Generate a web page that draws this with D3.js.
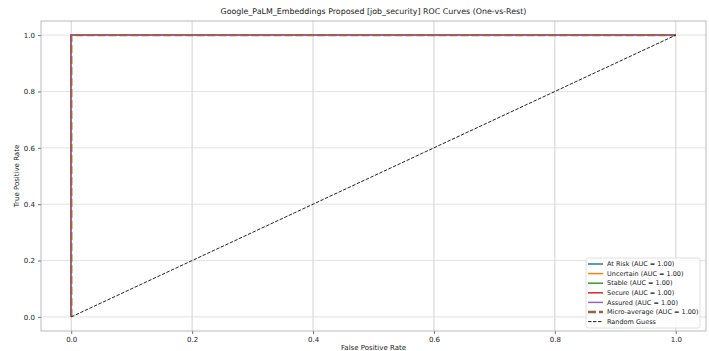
<!DOCTYPE html>
<html>
<head>
<meta charset="utf-8">
<script src="https://cdn.jsdelivr.net/npm/d3@7"></script>
<style>
  body { margin: 0; background: #fff; }
  text { font-family: "DejaVu Sans", sans-serif; fill: #222; }
</style>
</head>
<body>
<div id="chart"></div>
<script>
// data
const classNames = ['At Risk', 'Uncertain', 'Stable', 'Secure', 'Assured'];
const classColors = ['#1f77b4', '#ff7f0e', '#2ca02c', '#d62728', '#9467bd'];
const classAuc = [1.00, 1.00, 1.00, 1.00, 1.00];
const rocFpr = [0, 0, 1];
const rocTpr = [0, 1, 1];
const microAuc = 1.00;
const guessFpr = [0, 1];
const guessTpr = [0, 1];
const tickValues = [0, 0.2, 0.4, 0.6, 0.8, 1.0];

const width = 709, height = 351;
const margin = { left: 41, right: 3, top: 21, bottom: 20 };

const svg = d3.select('#chart').append('svg')
  .attr('width', width)
  .attr('height', height);

const x = d3.scaleLinear().domain([-0.05, 1.05]).range([margin.left, width - margin.right]);
const y = d3.scaleLinear().domain([-0.05, 1.05]).range([height - margin.bottom, margin.top]);

// grid
const grid = svg.append('g');
grid.selectAll('.vg').data(tickValues).enter().append('line')
  .attr('x1', d => x(d)).attr('x2', d => x(d))
  .attr('y1', y.range()[1]).attr('y2', y.range()[0])
  .attr('stroke', '#c8c8c8').attr('stroke-width', 0.8);
grid.selectAll('.hg').data(tickValues).enter().append('line')
  .attr('y1', d => y(d)).attr('y2', d => y(d))
  .attr('x1', x.range()[0]).attr('x2', x.range()[1])
  .attr('stroke', '#dcdcdc').attr('stroke-width', 0.8);

// axes
const xAxis = svg.append('g')
  .attr('transform', `translate(0,${y.range()[0]})`)
  .call(d3.axisBottom(x).tickValues(tickValues).tickFormat(d3.format('.1f')).tickSize(3).tickPadding(3));
const yAxis = svg.append('g')
  .attr('transform', `translate(${x.range()[0]},0)`)
  .call(d3.axisLeft(y).tickValues(tickValues).tickFormat(d3.format('.1f')).tickSize(3).tickPadding(3));
[xAxis, yAxis].forEach(a => {
  a.select('.domain').remove();
  a.selectAll('.tick line').attr('stroke', '#333').attr('stroke-width', 0.7);
  a.selectAll('.tick text').style('font-size', '7px').style('font-family', '"DejaVu Sans", sans-serif').attr('fill', '#222');
});

// frame
svg.append('rect')
  .attr('x', x.range()[0]).attr('y', y.range()[1])
  .attr('width', x.range()[1] - x.range()[0])
  .attr('height', y.range()[0] - y.range()[1])
  .attr('fill', 'none').attr('stroke', '#aaa').attr('stroke-width', 0.8);

const line = d3.line().x(d => x(d[0])).y(d => y(d[1]));
const rocPts = rocFpr.map((f, i) => [f, rocTpr[i]]);

// class curves
classNames.forEach((name, i) => {
  svg.append('path')
    .datum(rocPts)
    .attr('d', line)
    .attr('fill', 'none')
    .attr('stroke', classColors[i])
    .attr('stroke-width', 1.3);
});

// micro-average
svg.append('path')
  .datum(rocPts)
  .attr('d', line)
  .attr('fill', 'none')
  .attr('stroke', '#a0604f')
  .attr('stroke-width', 2.4)
  .attr('stroke-dasharray', '8,3');

// random guess
svg.append('path')
  .datum(guessFpr.map((f, i) => [f, guessTpr[i]]))
  .attr('d', line)
  .attr('fill', 'none')
  .attr('stroke', '#222')
  .attr('stroke-width', 1)
  .attr('stroke-dasharray', '3.5,1.5');

// title and labels
svg.append('text')
  .attr('x', (x.range()[0] + x.range()[1]) / 2).attr('y', 14)
  .attr('text-anchor', 'middle')
  .style('font-size', '7.9px')
  .text('Google_PaLM_Embeddings Proposed [job_security] ROC Curves (One-vs-Rest)');
svg.append('text')
  .attr('x', (x.range()[0] + x.range()[1]) / 2).attr('y', 349.5)
  .attr('text-anchor', 'middle')
  .style('font-size', '7px')
  .text('False Positive Rate');
svg.append('text')
  .attr('transform', `translate(19,${(y.range()[0] + y.range()[1]) / 2}) rotate(-90)`)
  .attr('text-anchor', 'middle')
  .style('font-size', '7px')
  .text('True Positive Rate');

// legend
const legendItems = classNames.map((n, i) => ({
  label: `${n} (AUC = ${classAuc[i].toFixed(2)})`, color: classColors[i], w: 1.5, dash: null
}));
legendItems.push({ label: `Micro-average (AUC = ${microAuc.toFixed(2)})`, color: '#a0604f', w: 2.4, dash: '8,3' });
legendItems.push({ label: 'Random Guess', color: '#222', w: 1, dash: '3.5,1.5' });

const lg = svg.append('g').attr('transform', 'translate(586,258)');
lg.append('rect')
  .attr('width', 114).attr('height', 70)
  .attr('rx', 2)
  .attr('fill', '#fff').attr('fill-opacity', 0.85)
  .attr('stroke', '#d8d8d8').attr('stroke-width', 0.8);
const items = lg.selectAll('.item').data(legendItems).enter().append('g')
  .attr('transform', (d, i) => `translate(0,${6 + i * 9.6})`);
items.append('line')
  .attr('x1', 2).attr('x2', 17)
  .attr('stroke', d => d.color)
  .attr('stroke-width', d => d.w)
  .attr('stroke-dasharray', d => d.dash);
items.append('text')
  .attr('x', 21).attr('dy', '0.35em')
  .style('font-size', '6.5px')
  .text(d => d.label);
</script>
</body>
</html>
